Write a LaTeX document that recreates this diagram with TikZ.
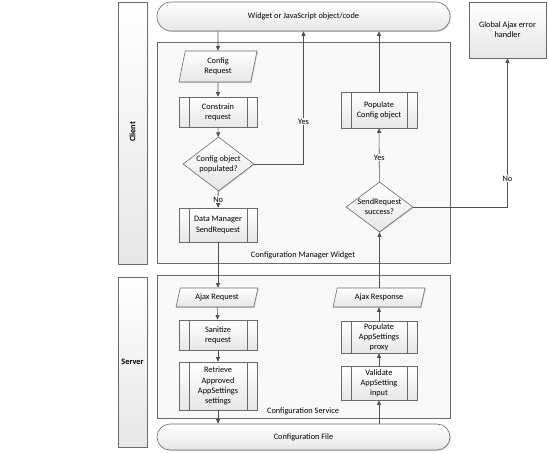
\documentclass[tikz,border=0pt]{standalone}
\usepackage{fontspec}
\setmainfont{Carlito}
\usetikzlibrary{shapes.geometric,arrows.meta,shadows}
\definecolor{edge}{HTML}{6A6A6A}
\definecolor{wire}{HTML}{505050}
\definecolor{boxtop}{HTML}{FFFFFF}
\definecolor{boxbot}{HTML}{E6E6E6}
\definecolor{contfill}{HTML}{F8F8F8}
\tikzset{
  base/.style={draw=edge, line width=0.6pt, font=\fontsize{8.3}{10.2}\selectfont, align=center, inner sep=1pt,
     top color=boxtop, bottom color=boxbot,
     drop shadow={opacity=0.35, shadow xshift=0.8pt, shadow yshift=-0.8pt}},
  lane/.style={base, minimum width=29pt},
  container/.style={draw=edge, line width=0.6pt, fill=contfill, minimum width=293pt,
     drop shadow={opacity=0.35, shadow xshift=0.8pt, shadow yshift=-0.8pt}},
  terminal/.style={base, rounded corners=13pt, minimum width=293pt},
  procbox/.style={base, minimum width=78pt,
     path picture={\draw[edge, line width=0.6pt]
        ([xshift=10pt]path picture bounding box.north west) -- ([xshift=10pt]path picture bounding box.south west)
        ([xshift=-10pt]path picture bounding box.north east) -- ([xshift=-10pt]path picture bounding box.south east);}},
  iobox/.style={base, trapezium, trapezium left angle=70, trapezium right angle=110,
     trapezium stretches body, minimum height=19pt},
  decision/.style={base, diamond, aspect=1.3, inner sep=-1.5pt},
  plainbox/.style={base},
  txt/.style={font=\fontsize{8.3}{10.2}\selectfont, align=center, inner sep=1pt},
  lbl/.style={txt, fill=contfill},
  arr/.style={draw=wire, line width=0.6pt, -{Triangle[length=4.5pt,width=4pt]}},
}
\begin{document}
\begin{tikzpicture}[x=1pt,y=-1pt]
\useasboundingbox (0,0) rectangle (550,453);
% lanes
\node[lane, minimum height=262pt] (client) at (132.5,133) {};
\node[txt, font=\fontsize{8.3}{10.2}\selectfont\bfseries, rotate=90] (clienttxt) at (132.5,132) {Client};
\node[lane, minimum height=170pt] (server) at (132.5,362) {\bfseries Server};
% containers
\node[container, minimum height=221pt] (cmw) at (303.5,152.5) {};
\node[container, minimum height=143pt] (cs) at (303.5,346.5) {};
\node[txt] (cmwtxt) at (303,255) {Configuration Manager Widget};
\node[txt] (cstxt) at (303,411) {Configuration Service};
% terminals
\node[terminal, minimum height=29pt, rounded corners=14pt] (widget) at (303.5,16.5) {Widget or JavaScript object/code};
\node[terminal, minimum height=26pt] (cfgfile) at (303.5,437) {Configuration File};
\node[plainbox, minimum width=77pt, minimum height=56pt] (global) at (507.5,30) {Global Ajax error\\handler};
% client flow
\node[iobox, minimum width=78pt, minimum height=31pt, trapezium left angle=72, trapezium right angle=108] (cfgreq) at (218,66.5) {Config\\Request};
\node[procbox, minimum height=30pt] (constrain) at (218,112) {Constrain\\request};
\node[decision, minimum width=71pt, minimum height=54pt] (d1) at (218.5,164) {Config object\\populated?};
\node[procbox, minimum height=34pt] (datamgr) at (218,225) {Data Manager\\SendRequest};
\node[procbox, minimum width=76pt, minimum height=36pt] (popcfg) at (379,110) {Populate\\Config object};
\node[decision, minimum width=67pt, minimum height=50pt] (d2) at (379.5,207) {SendRequest\\success?};
% server flow
\node[iobox, minimum width=82pt, trapezium left angle=65, trapezium right angle=115] (ajaxreq) at (217,297.5) {Ajax Request};
\node[procbox, minimum height=30pt] (sanitize) at (218,335) {Sanitize\\request};
\node[procbox, minimum height=48pt] (retrieve) at (218,386) {Retrieve\\Approved\\AppSettings\\settings};
\node[iobox, minimum width=92pt, trapezium left angle=65, trapezium right angle=115] (ajaxresp) at (379,297.5) {Ajax Response};
\node[procbox, minimum width=76pt, minimum height=32pt] (popapp) at (379,337) {Populate\\AppSettings\\proxy};
\node[procbox, minimum width=76pt, minimum height=34pt] (validate) at (379,383) {Validate\\AppSetting\\input};
% connectors
\draw[arr] (widget.south -| cfgreq) -- (cfgreq);
\draw[arr] (cfgreq) -- (constrain);
\draw[arr] (constrain) -- (d1);
\draw[arr] (d1) -- node[lbl, pos=0.5] (no1) {No} (datamgr);
\draw[arr] (datamgr.south) -- (datamgr.south |- ajaxreq.north);
\draw[arr] (ajaxreq) -- (sanitize);
\draw[arr] (sanitize) -- (retrieve);
\draw[arr] (retrieve.south) -- (retrieve.south |- cfgfile.north);
\coordinate (yescorner) at (d1.east -| widget.south);
\draw[arr] (d1.east) -- (yescorner) -- node[lbl, pos=0.32] (yes1) {Yes} (widget.south);
\draw[arr] (cfgfile.north -| validate) -- (validate);
\draw[arr] (validate) -- (popapp);
\draw[arr] (popapp) -- (popapp.north |- ajaxresp.south);
\draw[arr] (ajaxresp.north -| d2) -- (d2.south);
\draw[arr] (d2) -- node[lbl, pos=0.45] (yes2) {Yes} (popcfg);
\draw[arr] (popcfg) -- (popcfg |- widget.south);
\coordinate (nocorner) at (d2.east -| global.south);
\draw[arr] (d2.east) -- (nocorner) -- node[txt, fill=white, pos=0.19] (no2) {No} (global.south);
\end{tikzpicture}
\end{document}
